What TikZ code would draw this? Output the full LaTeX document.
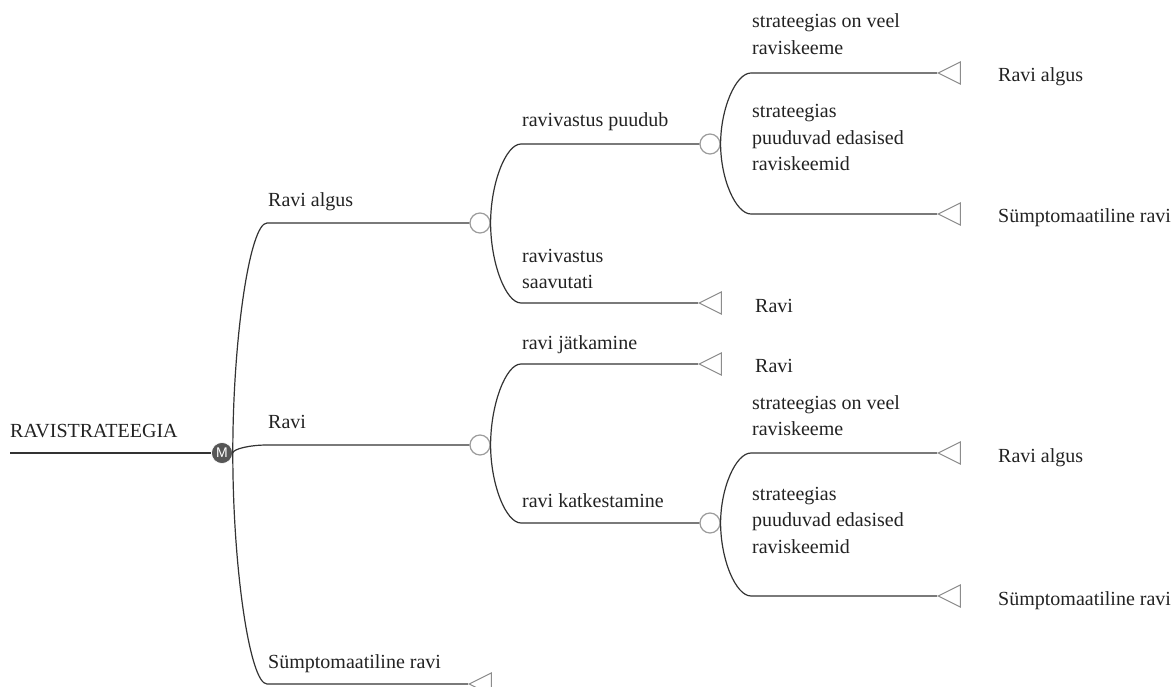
\documentclass[tikz,border=0pt]{standalone}
\usepackage{fontspec}
\setmainfont{Liberation Serif}
\setsansfont{Liberation Sans}
\usetikzlibrary{calc,shapes.geometric}

\definecolor{linecol}{HTML}{333333}
\definecolor{inkcol}{HTML}{222222}
\definecolor{ringcol}{HTML}{9C9C9C}
\definecolor{tricol}{HTML}{8C8C8C}
\definecolor{disccol}{HTML}{565656}

% multi-line label whose baseline is the first line's baseline
\newcommand\stacklines[1]{\vtop{\baselineskip=26.5pt\halign{##\hfil\cr#1\crcr}}}

\tikzset{
  wire/.style={draw=linecol, line width=1.2pt},
  branch/.style={to path={let \p1=(\tikztostart), \p2=(\tikztotarget) in
      .. controls (\x1,{\y1+0.5*(\y2-\y1)}) and ({\x1+0.5*(\x2-\x1)},\y2) .. (\tikztotarget)}},
  chance/.style={circle, draw=ringcol, fill=white, line width=1.2pt,
      minimum size=20pt, inner sep=0pt},
  leaf/.style={isosceles triangle, shape border rotate=180, isosceles triangle stretches,
      minimum width=22pt, minimum height=22pt, inner sep=0pt,
      draw=tricol, fill=white, line width=1pt, anchor=apex},
  lbl/.style={anchor=base west, inner sep=0pt, text=inkcol,
      font=\fontsize{20}{26.5}\selectfont},
  mnode/.style={circle, fill=disccol, draw=white, line width=0.6pt, minimum size=21pt,
      inner sep=0pt, text=white, font=\sffamily\fontsize{14}{14}\selectfont},
}

\begin{document}
\begin{tikzpicture}[x=1pt,y=-1pt]
\useasboundingbox (0,0) rectangle (1173,687);
\clip (0,0) rectangle (1173,687);

% root
\node[lbl] (rootlbl) at (10,437) {RAVISTRATEEGIA};
\coordinate (rootin) at (10,453);
\node[mnode] (M) at (222,453) {M};

% first level
\coordinate (a1) at (267,223);
\coordinate (a2) at (267,445);
\coordinate (a3) at (267,684);
\node[chance] (C1) at (480,223) {};
\node[chance] (C2) at (480,445) {};
\node[leaf] (L1) at (468,684) {};
\node[lbl] (t1) at (268,207) {Ravi algus};
\node[lbl] (t2) at (268,428) {Ravi};
\node[lbl] (t3) at (268,668) {Sümptomaatiline ravi};

% second level, below "Ravi algus"
\coordinate (b1) at (521,144);
\coordinate (b2) at (521,303);
\node[chance] (C3) at (710,144) {};
\node[leaf] (L2) at (698,303) {};
\node[lbl] (t4) at (522,127) {ravivastus puudub};
\node[lbl] (t5) at (522,262) {\stacklines{ravivastus\cr saavutati}};
\node[lbl] (r2) at (755,312) {Ravi};

% second level, below "Ravi"
\coordinate (b3) at (521,364);
\coordinate (b4) at (521,523);
\node[leaf] (L3) at (698,364) {};
\node[chance] (C4) at (710,523) {};
\node[lbl] (t6) at (522,349) {ravi jätkamine};
\node[lbl] (t7) at (522,507) {ravi katkestamine};
\node[lbl] (r3) at (755,372) {Ravi};

% third level, below "ravivastus puudub"
\coordinate (c1) at (751,73);
\coordinate (c2) at (751,214);
\node[leaf] (L4) at (937,73) {};
\node[leaf] (L5) at (937,214) {};
\node[lbl] (t8) at (752,28) {\stacklines{strateegias on veel\cr raviskeeme}};
\node[lbl] (t9) at (752,118) {\stacklines{strateegias\cr puuduvad edasised\cr raviskeemid}};
\node[lbl] (r4) at (998,82) {Ravi algus};
\node[lbl] (r5) at (998,223) {Sümptomaatiline ravi};

% third level, below "ravi katkestamine"
\coordinate (c3) at (751,453);
\coordinate (c4) at (751,596);
\node[leaf] (L6) at (937,453) {};
\node[leaf] (L7) at (937,596) {};
\node[lbl] (t10) at (752,409) {\stacklines{strateegias on veel\cr raviskeeme}};
\node[lbl] (t11) at (752,500) {\stacklines{strateegias\cr puuduvad edasised\cr raviskeemid}};
\node[lbl] (r6) at (998,462) {Ravi algus};
\node[lbl] (r7) at (998,605) {Sümptomaatiline ravi};

% connectors
\draw[wire] (rootin) -- (M);
\draw[wire] (M.east) to[branch] (a1) -- (C1);
\draw[wire] (M.east) to[branch] (a2) -- (C2);
\draw[wire] (M.east) to[branch] (a3) -- (L1.apex);
\draw[wire] (C1.east) to[branch] (b1) -- (C3);
\draw[wire] (C1.east) to[branch] (b2) -- (L2.apex);
\draw[wire] (C2.east) to[branch] (b3) -- (L3.apex);
\draw[wire] (C2.east) to[branch] (b4) -- (C4);
\draw[wire] (C3.east) to[branch] (c1) -- (L4.apex);
\draw[wire] (C3.east) to[branch] (c2) -- (L5.apex);
\draw[wire] (C4.east) to[branch] (c3) -- (L6.apex);
\draw[wire] (C4.east) to[branch] (c4) -- (L7.apex);
\end{tikzpicture}
\end{document}
